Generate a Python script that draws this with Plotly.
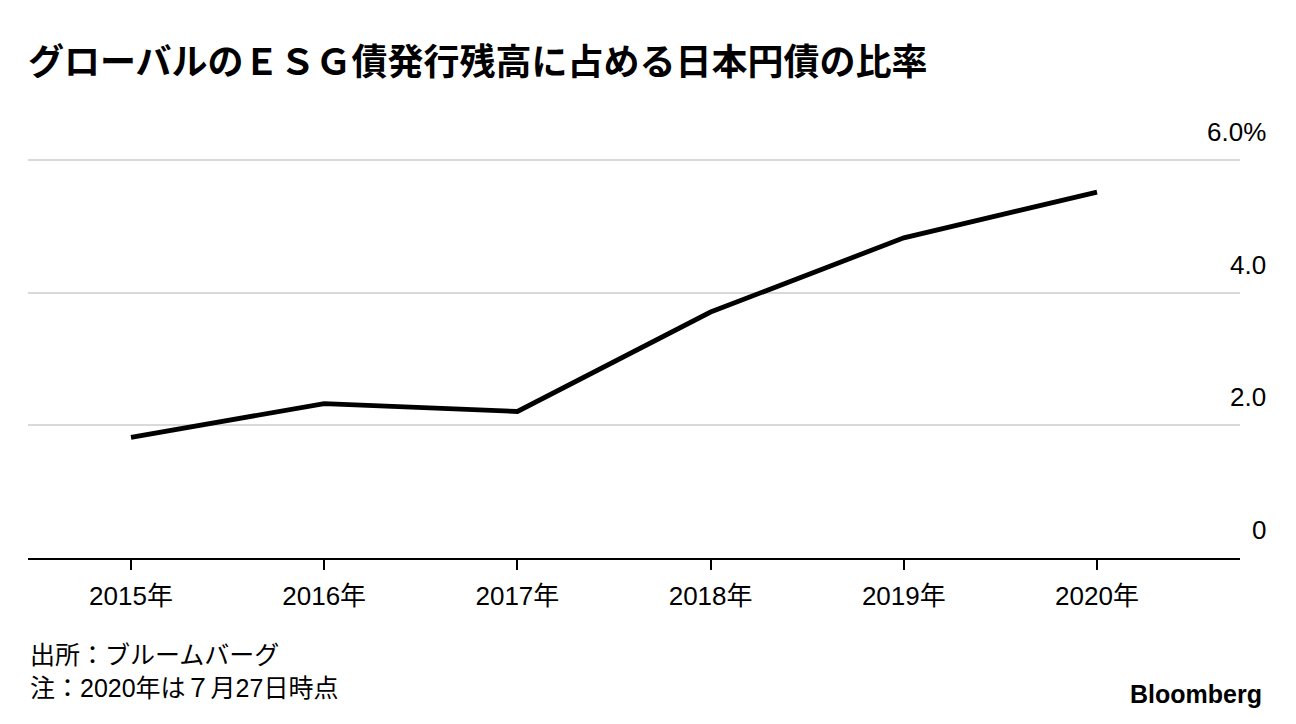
import plotly.graph_objects as go

years = [2015, 2016, 2017, 2018, 2019, 2020]
x_labels = ["2015年", "2016年", "2017年", "2018年", "2019年", "2020年"]
share = [1.82, 2.33, 2.21, 3.71, 4.83, 5.52]
y_ticks = [0, 2, 4, 6]
y_tick_labels = ["0", "2.0", "4.0", "6.0%"]

title = "グローバルのＥＳＧ債発行残高に占める日本円債の比率"
source = "出所：ブルームバーグ"
note = "注：2020年は７月27日時点"

font_family = "Liberation Sans, Noto Sans CJK JP, sans-serif"

fig = go.Figure()
fig.add_trace(go.Scatter(
    x=years, y=share, mode="lines",
    line=dict(color="black", width=4.8),
    hoverinfo="skip", showlegend=False,
))

for v, lab in zip(y_ticks, y_tick_labels):
    fig.add_annotation(
        x=1.0, xref="paper", xanchor="right", xshift=28,
        y=v, yref="y", yanchor="bottom", yshift=11,
        text=lab, showarrow=False,
        font=dict(size=26, color="black", family=font_family),
    )

fig.add_annotation(x=0, xref="paper", xshift=0, y=-0.277, yref="paper",
                   xanchor="left", yanchor="middle", align="left",
                   text=source + "<br>" + note, showarrow=False,
                   font=dict(size=25, color="black", family=font_family))
fig.add_annotation(x=1.0, xref="paper", xshift=24, y=-0.33, yref="paper",
                   xanchor="right", yanchor="middle", text="<b>Bloomberg</b>",
                   showarrow=False,
                   font=dict(size=25, color="black", family="Liberation Sans Narrow, Liberation Sans, sans-serif"))

fig.update_layout(
    width=1288, height=716,
    paper_bgcolor="white", plot_bgcolor="white",
    margin=dict(l=20, r=56, t=139, b=166),
    title=dict(text="<b>" + title + "</b>", x=0.0155, xanchor="left",
               y=0.9246, yanchor="middle",
               font=dict(size=36, color="black", family="Noto Sans CJK JP, sans-serif")),
    xaxis=dict(
        range=[2014.467, 2020.74],
        tickvals=years, ticktext=x_labels,
        showgrid=False, zeroline=False,
        showline=True, linecolor="black", linewidth=2,
        ticks="outside", ticklen=10, tickwidth=2, tickcolor="black",
        ticklabelstandoff=4,
        tickfont=dict(size=26, color="black", family=font_family),
        fixedrange=True,
    ),
    yaxis=dict(
        range=[0, 6.2], tickvals=y_ticks, showticklabels=False,
        showgrid=True, gridcolor="#d9d9d9", gridwidth=2,
        zeroline=False, fixedrange=True,
    ),
)

fig.write_html("out.html")
